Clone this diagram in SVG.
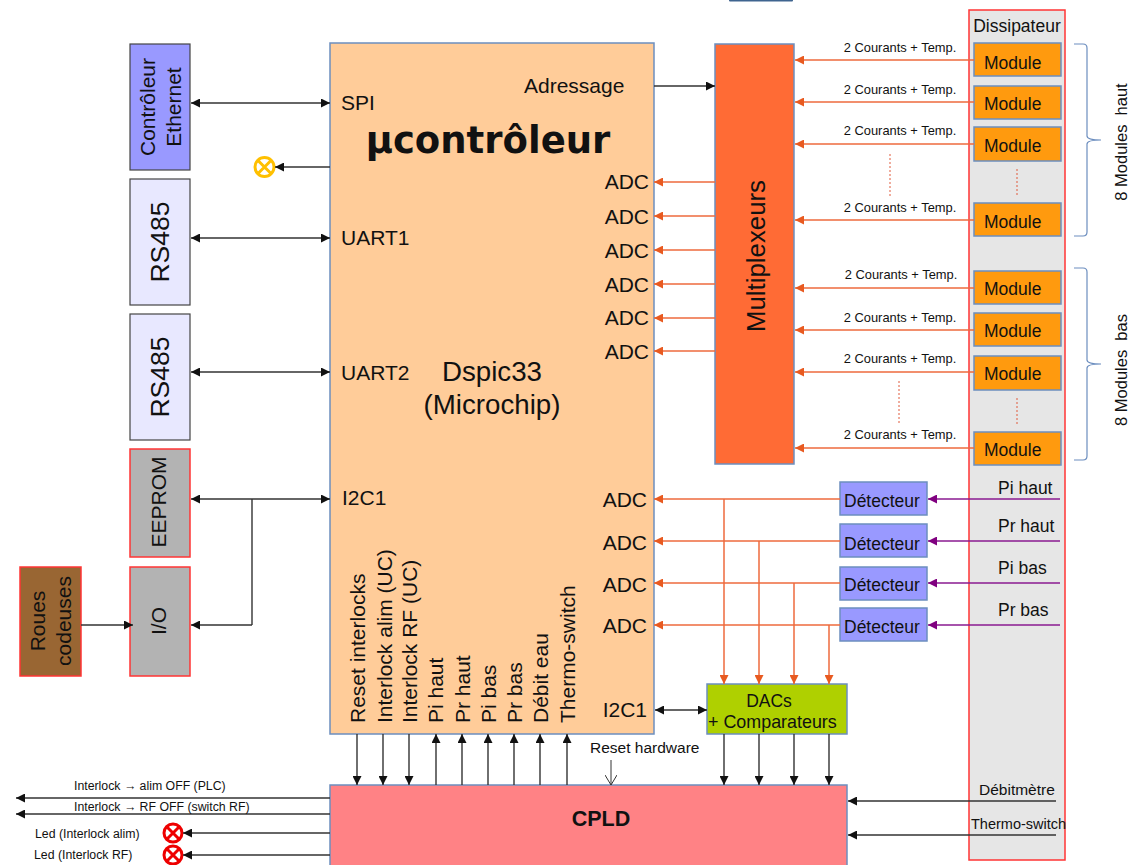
<svg xmlns="http://www.w3.org/2000/svg" width="1137" height="865" viewBox="0 0 1137 865">
<style>
text{font-family:"Liberation Sans",Arial,sans-serif;fill:#111}
.b{stroke:#6c8ebf;stroke-width:1.5}
.r{stroke:#ff3535;stroke-width:1.5}
.g{stroke:#444;stroke-width:1.2}
.k{fill:none;stroke:#333;stroke-width:1.4;marker-end:url(#ak)}
.kk{marker-start:url(#aks)}
.o{fill:none;stroke:#ee6a3c;stroke-width:1.5;marker-end:url(#ao)}
.p{fill:none;stroke:#8a1a90;stroke-width:1.5;marker-end:url(#ap)}
.dot{fill:none;stroke:#e05a3c;stroke-width:1;stroke-dasharray:2 2}
.m{font-size:17.5px}.c{font-size:12.9px}.a{font-size:21px}
.t{font-size:12.3px}.s{font-size:15.5px}
.led{fill:none;stroke-width:3}
.v{font-size:21px}
</style>
<defs>
<marker id="ak" markerUnits="userSpaceOnUse" markerWidth="9" markerHeight="9" refX="9" refY="4.5" orient="auto"><path d="M0 0L9 4.5L0 9Z" fill="#111"/></marker>
<marker id="aks" markerUnits="userSpaceOnUse" markerWidth="9" markerHeight="9" refX="0" refY="4.5" orient="auto"><path d="M9 0L0 4.5L9 9Z" fill="#111"/></marker>
<marker id="ao" markerUnits="userSpaceOnUse" markerWidth="9" markerHeight="9" refX="9" refY="4.5" orient="auto"><path d="M0 0L9 4.5L0 9Z" fill="#e85a20"/></marker>
<marker id="ap" markerUnits="userSpaceOnUse" markerWidth="9" markerHeight="9" refX="9" refY="4.5" orient="auto"><path d="M0 0L9 4.5L0 9Z" fill="#800080"/></marker>
<marker id="ar" markerUnits="userSpaceOnUse" markerWidth="12" markerHeight="12" refX="11" refY="6" orient="auto"><path d="M1 0L11 6L1 12" fill="none" stroke="#333"/></marker>
</defs>
<rect id="top-fragment" x="729" y="-6" width="64" height="7.500" rx="1" fill="#3f648f"/>
<g id="dissipateur"><rect x="969" y="10" width="96" height="850" fill="#e6e6e6" class="r"/><text x="1017" y="32" text-anchor="middle" class="m">Dissipateur</text></g>
<g id="ucontroleur"><rect x="330" y="43" width="324" height="691" fill="#ffcc99" class="b"/>
<text x="488" y="153" text-anchor="middle" font-size="37" font-weight="bold" style="font-family:'DejaVu Sans',sans-serif">µcontrôleur</text>
<text x="341" y="110" class="a">SPI</text><text x="524" y="93" class="a">Adressage</text>
<text x="341" y="245" class="a">UART1</text><text x="341" y="380" class="a">UART2</text><text x="342" y="505" class="a">I2C1</text>
<text x="492" y="381" text-anchor="middle" font-size="27.700">Dspic33</text><text x="492" y="414" text-anchor="middle" font-size="27.700">(Microchip)</text>
<g text-anchor="end"><text x="649" y="189" class="a">ADC</text><text x="649" y="224" class="a">ADC</text><text x="649" y="258" class="a">ADC</text><text x="649" y="292" class="a">ADC</text><text x="649" y="325" class="a">ADC</text><text x="649" y="359" class="a">ADC</text><text x="647" y="507" class="a">ADC</text><text x="647" y="550" class="a">ADC</text><text x="647" y="592" class="a">ADC</text><text x="647" y="633" class="a">ADC</text><text x="647" y="717" class="a">I2C1</text></g>
<g><text transform="translate(365 723) rotate(-90)" class="a">Reset interlocks</text><text transform="translate(392 723) rotate(-90)" class="a">Interlock alim (UC)</text><text transform="translate(417 723) rotate(-90)" class="a">Interlock RF (UC)</text><text transform="translate(443 723) rotate(-90)" class="a">Pi haut</text><text transform="translate(470 723) rotate(-90)" class="a">Pr haut</text><text transform="translate(496 723) rotate(-90)" class="a">Pi bas</text><text transform="translate(522 723) rotate(-90)" class="a">Pr bas</text><text transform="translate(548 723) rotate(-90)" class="a">Débit eau</text><text transform="translate(575 723) rotate(-90)" class="a">Thermo-switch</text></g></g>
<g id="ethernet"><rect x="130" y="44" width="60" height="126" fill="#9999ff" class="g"/><text transform="translate(155 107) rotate(-90)" text-anchor="middle" class="v">Contrôleur</text><text transform="translate(181 107) rotate(-90)" text-anchor="middle" class="v">Ethernet</text></g>
<g id="rs485-1"><rect x="130" y="179" width="60" height="126" fill="#e8e8ff" class="g"/><text transform="translate(169 242) rotate(-90)" text-anchor="middle" font-size="26.500">RS485</text></g>
<g id="rs485-2"><rect x="130" y="314" width="60" height="126" fill="#e8e8ff" class="g"/><text transform="translate(169 377) rotate(-90)" text-anchor="middle" font-size="26.500">RS485</text></g>
<g id="eeprom"><rect x="130" y="449" width="60" height="108" fill="#b3b3b3" class="r"/><text transform="translate(166 502) rotate(-90)" text-anchor="middle" class="v">EEPROM</text></g>
<g id="io"><rect x="130" y="567" width="60" height="109" fill="#b3b3b3" class="r"/><text transform="translate(166 621) rotate(-90)" text-anchor="middle" class="v">I/O</text></g>
<g id="roues"><rect x="20" y="567" width="61" height="109" fill="#996633" class="r"/><text transform="translate(45 621) rotate(-90)" text-anchor="middle" class="v">Roues</text><text transform="translate(71 621) rotate(-90)" text-anchor="middle" class="v">codeuses</text></g>
<g id="multiplexeurs"><rect x="715" y="44" width="79" height="420" fill="#ff6b35" class="b"/><text transform="translate(765 256) rotate(-90)" text-anchor="middle" font-size="25.800">Multiplexeurs</text></g>
<g id="modules">
<g id="m1"><rect x="974" y="43" width="87" height="33" fill="#ff9a0e" class="b"/><text x="984" y="69" class="m">Module</text></g>
<g id="m2"><rect x="974" y="86" width="87" height="33" fill="#ff9a0e" class="b"/><text x="984" y="110" class="m">Module</text></g>
<g id="m3"><rect x="974" y="127" width="87" height="34" fill="#ff9a0e" class="b"/><text x="984" y="152" class="m">Module</text></g>
<g id="m4"><rect x="974" y="203" width="87" height="33" fill="#ff9a0e" class="b"/><text x="984" y="228" class="m">Module</text></g>
<g id="m5"><rect x="974" y="271" width="87" height="33" fill="#ff9a0e" class="b"/><text x="984" y="295" class="m">Module</text></g>
<g id="m6"><rect x="974" y="313" width="87" height="33" fill="#ff9a0e" class="b"/><text x="984" y="337" class="m">Module</text></g>
<g id="m7"><rect x="974" y="356" width="87" height="34" fill="#ff9a0e" class="b"/><text x="984" y="380" class="m">Module</text></g>
<g id="m8"><rect x="974" y="432" width="87" height="33" fill="#ff9a0e" class="b"/><text x="984" y="456" class="m">Module</text></g>
</g>
<g id="detecteurs">
<g id="d1"><rect x="840" y="482" width="87" height="33" fill="#9999ff" class="b"/><text x="844" y="507" class="m">Détecteur</text></g>
<g id="d2"><rect x="840" y="524" width="87" height="33" fill="#9999ff" class="b"/><text x="844" y="550" class="m">Détecteur</text></g>
<g id="d3"><rect x="840" y="567" width="87" height="33" fill="#9999ff" class="b"/><text x="844" y="591" class="m">Détecteur</text></g>
<g id="d4"><rect x="840" y="608" width="87" height="33" fill="#9999ff" class="b"/><text x="844" y="633" class="m">Détecteur</text></g>
</g>
<g id="dacs"><rect x="707" y="684" width="140" height="50" fill="#afd000" class="b"/><text x="769" y="707" text-anchor="middle" class="m">DACs</text><text x="708" y="728" font-size="17.900">+ Comparateurs</text></g>
<g id="cpld"><rect x="330" y="785" width="517" height="85" fill="#ff8285" class="b"/><text x="601" y="826" text-anchor="middle" font-size="21.500" font-weight="bold">CPLD</text></g>
<g id="leds">
<g id="led-y" class="led" stroke="#ffc000"><circle cx="264.500" cy="167" r="9.500"/><path d="M258 160.500L271 173.500M271 160.500L258 173.500"/></g>
<g id="led-a" class="led" stroke="#ee0000"><circle cx="173" cy="833" r="9"/><path d="M167 827L179 839M179 827L167 839"/></g>
<g id="led-r" class="led" stroke="#ee0000"><circle cx="173" cy="855" r="9"/><path d="M167 849L179 861M179 849L167 861"/></g>
</g>
<g id="connectors">
<path class="k kk" d="M191 103H330"/><path class="k" d="M330 167H275"/><path class="k kk" d="M191 238H330"/><path class="k kk" d="M191 372H330"/><path class="k kk" d="M191 499H330"/>
<path d="M252 499V625" fill="none" stroke="#333" stroke-width="1.400"/><path class="k" d="M252 625H191"/><path class="k" d="M81 625H133"/>
<path class="k" d="M654 86H715"/>
<path class="o" d="M974 60H795"/><path class="o" d="M974 102H795"/><path class="o" d="M974 144H795"/><path class="o" d="M974 220H795"/><path class="o" d="M974 288H795"/><path class="o" d="M974 330H795"/><path class="o" d="M974 372H795"/><path class="o" d="M974 448H795"/>
<path class="dot" d="M890 154V197M1017 169V195M899 381V424M1017 398V424"/>
<path class="o" d="M715 182H654"/><path class="o" d="M715 216H654"/><path class="o" d="M715 250H654"/><path class="o" d="M715 284H654"/><path class="o" d="M715 318H654"/><path class="o" d="M715 351H654"/>
<path class="o" d="M840 499H654"/><path class="o" d="M840 541H654"/><path class="o" d="M840 583H654"/><path class="o" d="M840 625H654"/>
<path class="o" d="M724 499V684"/><path class="o" d="M759 541V684"/><path class="o" d="M794 583V684"/><path class="o" d="M829 625V684"/>
<path class="p" d="M1060 499H928"/><path class="p" d="M1060 541H928"/><path class="p" d="M1060 583H928"/><path class="p" d="M1060 625H928"/>
<path class="k kk" d="M655 710H707"/>
<path class="k" d="M724 734V785"/><path class="k" d="M759 734V785"/><path class="k" d="M794 734V785"/><path class="k" d="M829 734V785"/>
<path class="k" d="M357 734V785"/><path class="k" d="M383 734V785"/><path class="k" d="M409 734V785"/>
<path class="k" d="M436 785V734"/><path class="k" d="M462 785V734"/><path class="k" d="M488 785V734"/><path class="k" d="M514 785V734"/><path class="k" d="M540 785V734"/><path class="k" d="M567 785V734"/>
<path d="M611 760V785" fill="none" stroke="#333" marker-end="url(#ar)"/>
<path class="k" d="M1056 801H848"/><path class="k" d="M1056 835H848"/>
<path class="k" d="M330 798H16"/><path class="k" d="M330 814H16"/><path class="k" d="M330 833H183"/><path class="k" d="M330 855H183"/>
<path d="M1074 44H1083Q1087 44 1087 48V136Q1087 140 1101 140Q1087 140 1087 144V232Q1087 236 1083 236H1074" fill="none" stroke="#6c8ebf" stroke-width="1.200"/>
<path d="M1074 268H1083Q1087 268 1087 272V360Q1087 364 1101 364Q1087 364 1087 368V456Q1087 460 1083 460H1074" fill="none" stroke="#6c8ebf" stroke-width="1.200"/>
</g>
<g id="labels">
<g text-anchor="middle"><text x="900" y="52" class="c">2 Courants + Temp.</text><text x="900" y="94" class="c">2 Courants + Temp.</text><text x="900" y="135" class="c">2 Courants + Temp.</text><text x="900" y="212" class="c">2 Courants + Temp.</text><text x="901" y="279" class="c">2 Courants + Temp.</text><text x="900" y="322" class="c">2 Courants + Temp.</text><text x="900" y="363" class="c">2 Courants + Temp.</text><text x="900" y="439" class="c">2 Courants + Temp.</text></g>
<text x="998" y="494" class="m">Pi haut</text><text x="998" y="532" class="m">Pr haut</text><text x="998" y="574" class="m">Pi bas</text><text x="998" y="616" class="m">Pr bas</text>
<text x="979" y="795" class="s">Débitmètre</text><text x="971" y="829" font-size="14.500">Thermo-switch</text>
<text x="590" y="753" class="s">Reset hardware</text>
<text transform="translate(1127 142) rotate(-90)" text-anchor="middle" font-size="16.500" xml:space="preserve">8 Modules  haut</text>
<text transform="translate(1127 370) rotate(-90)" text-anchor="middle" font-size="16.500" xml:space="preserve">8 Modules  bas</text>
<text x="74" y="790" class="t">Interlock → alim OFF (PLC)</text><text x="74" y="811" class="t">Interlock → RF OFF  (switch RF)</text>
<text x="35" y="838" class="t">Led (Interlock alim)</text><text x="34" y="859" class="t">Led (Interlock RF)</text>
</g>
</svg>
